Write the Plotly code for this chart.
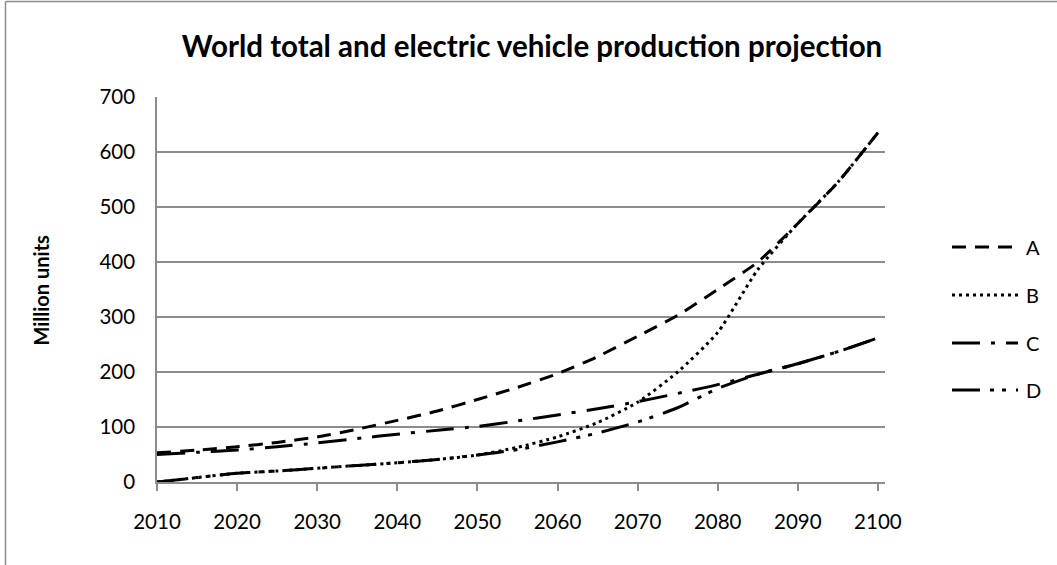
import plotly.graph_objects as go

# Projection years (every 5 years)
years = [2010, 2015, 2020, 2025, 2030, 2035, 2040, 2045, 2050, 2055,
         2060, 2065, 2070, 2075, 2080, 2085, 2090, 2095, 2100]

# Million units per series
series_a = [53, 58, 64, 72, 82, 96, 112, 129, 150, 172,
            197, 228, 265, 303, 350, 400, 470, 545, 635]
series_b = [0, 8, 16, 20, 25, 30, 35, 41, 49, 63,
            82, 108, 145, 200, 272, 386, 470, 545, 635]
series_c = [50, 54, 58, 64, 71, 79, 87, 94, 101, 111,
            122, 133, 146, 161, 177, 196, 215, 237, 262]
series_d = [0, 8, 16, 20, 25, 30, 35, 41, 49, 59,
            73, 89, 109, 135, 170, 196, 215, 237, 262]

names = ["A", "B", "C", "D"]
values = [series_a, series_b, series_c, series_d]
dashes = ["14px,9px", "3px,4px", "28px,11px,4px,11px", "28px,10px,4px,8px,4px,10px"]

x_ticks = [2010, 2020, 2030, 2040, 2050, 2060, 2070, 2080, 2090, 2100]
y_ticks = [0, 100, 200, 300, 400, 500, 600, 700]

FONT = "Lato"
GRID = "#8c8c8c"

fig = go.Figure()
for name, vals, dash in zip(names, values, dashes):
    fig.add_trace(go.Scatter(
        x=years, y=vals, name=name, mode="lines",
        line=dict(color="black", width=3, dash=dash, shape="spline", smoothing=0.6),
        showlegend=False,
    ))

W, H = 1057, 565
L, R, T, B = 157, 172, 97, 83
pw, ph = W - L - R, H - T - B


def px_x(p):
    return (p - L) / pw


def px_y(p):
    return (H - B - p) / ph


shapes = []
annotations = []

# Legend drawn beside the plot
leg_y = [247, 295, 343, 390]
for name, dash, yy in zip(names, dashes, leg_y):
    shapes.append(dict(type="line", xref="paper", yref="paper",
                       x0=px_x(952), x1=px_x(1018), y0=px_y(yy), y1=px_y(yy),
                       line=dict(color="black", width=3, dash=dash)))
    annotations.append(dict(text=name, xref="paper", yref="paper",
                            x=px_x(1024), y=px_y(yy), xanchor="left", yanchor="middle",
                            showarrow=False, font=dict(family=FONT, size=20, color="black")))

# Chart frame edges
shapes.append(dict(type="line", xref="paper", yref="paper",
                   x0=px_x(5.5), x1=px_x(5.5), y0=px_y(1.5), y1=px_y(570),
                   line=dict(color="#8c8c8c", width=1.5)))
shapes.append(dict(type="line", xref="paper", yref="paper",
                   x0=px_x(5.5), x1=px_x(1060), y0=px_y(1.5), y1=px_y(1.5),
                   line=dict(color="#8c8c8c", width=1.5)))

# Y axis title
annotations.append(dict(text="<b>Million units</b>", xref="paper", yref="paper",
                        x=px_x(40), y=0.5, textangle=-90, showarrow=False,
                        xanchor="center", yanchor="middle",
                        font=dict(family=FONT, size=20, color="black")))

fig.update_layout(
    width=W, height=H,
    margin=dict(l=L, r=R, t=T, b=B, pad=0),
    paper_bgcolor="white", plot_bgcolor="white",
    title=dict(text="<b>World total and electric vehicle production projection</b>",
               x=532 / W, xanchor="center", y=1 - 47 / H, yanchor="middle",
               font=dict(family=FONT, size=29.5, color="black")),
    xaxis=dict(range=[2010, 2010 + pw / 8.01], tickvals=x_ticks,
               showgrid=False, zeroline=False,
               showline=True, linecolor=GRID, linewidth=1.5,
               ticks="outside", ticklen=7, tickcolor=GRID, tickwidth=1.5,
               ticklabelstandoff=14,
               tickfont=dict(family=FONT, size=20.5, color="black")),
    yaxis=dict(range=[0, 700], tickvals=y_ticks,
               showgrid=True, gridcolor=GRID, gridwidth=1.5, zeroline=False,
               showline=True, linecolor=GRID, linewidth=1.5,
               ticks="", ticklabelstandoff=16,
               tickfont=dict(family=FONT, size=20.5, color="black")),
    shapes=shapes,
    annotations=annotations,
    showlegend=False,
)

fig.write_html("out.html")
